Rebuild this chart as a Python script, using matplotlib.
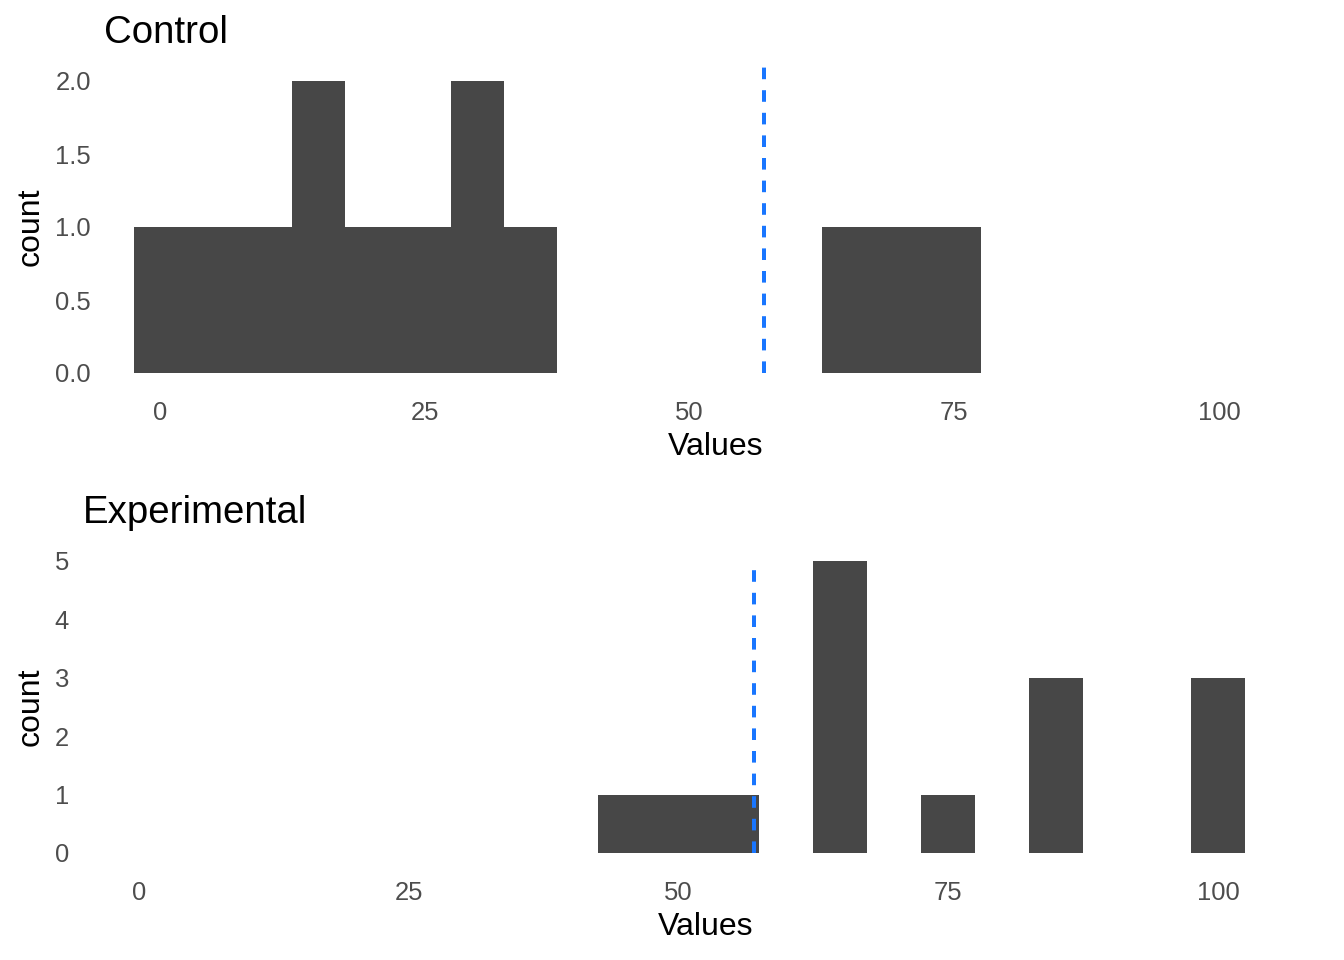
import matplotlib
matplotlib.use("Agg")
import matplotlib.pyplot as plt

# ---- data ----
control_bins = [0, 5, 10, 15, 20, 25, 30, 35, 65, 70, 75]
control_counts = [1, 1, 1, 2, 1, 1, 2, 1, 1, 1, 1]
exp_bins = [45, 50, 55, 65, 75, 85, 100]
exp_counts = [1, 1, 1, 5, 1, 3, 3]
mean_line = 57
control_line_top = 2.1
exp_line_top = 5.0
x_ticks = [0, 25, 50, 75, 100]
control_yticks = [0.0, 0.5, 1.0, 1.5, 2.0]
control_yticklabels = ["0.0", "0.5", "1.0", "1.5", "2.0"]
exp_yticks = [0, 1, 2, 3, 4, 5]
titles = ["Control", "Experimental"]

plt.rcParams['font.family'] = ['Liberation Sans', 'DejaVu Sans']

W, H = 1344, 960
DPI = 192
fig = plt.figure(figsize=(W / DPI, H / DPI), dpi=DPI)

BAR = "#474747"
LINE = "#1976FF"

def px_axes(left, right, top, bottom):
    return fig.add_axes([left / W, (H - bottom) / H, (right - left) / W, (bottom - top) / H])

panels = [
    dict(box=(104.4, 1327.5, 66.4, 387.6), bins=control_bins, counts=control_counts,
         ylim=(-0.1, 2.1), yticks=control_yticks, ylabels=control_yticklabels,
         title=titles[0], line_top=control_line_top),
    dict(box=(82.4, 1328.6, 546.4, 867.6), bins=exp_bins, counts=exp_counts,
         ylim=(-0.25, 5.25), yticks=exp_yticks, ylabels=[str(v) for v in exp_yticks],
         title=titles[1], line_top=exp_line_top),
]

for p in panels:
    ax = px_axes(*p["box"])
    ax.bar(p["bins"], p["counts"], width=5, color=BAR, edgecolor="none", linewidth=0)
    ax.plot([mean_line, mean_line], [0, p["line_top"]], color=LINE, linewidth=1.5,
            dashes=(2.9, 2.75), solid_capstyle='butt', dash_capstyle='butt')
    ax.set_xlim(-5.25, 110.25)
    ax.set_ylim(*p["ylim"])
    ax.set_xticks(x_ticks)
    ax.set_xticklabels([str(v) for v in x_ticks])
    ax.set_yticks(p["yticks"])
    ax.set_yticklabels(p["ylabels"])
    for s in ax.spines.values():
        s.set_visible(False)
    ax.tick_params(axis='both', length=0, pad=5.0, labelsize=9.6, labelcolor="#4D4D4D")
    ax.set_xlabel("Values", fontsize=12, color="black", labelpad=2.75)
    ax.set_ylabel("count", fontsize=12, color="black", labelpad=3.5)
    ax.set_title(p["title"], loc='left', fontsize=14.4, color="black", pad=8.8)
    ax.grid(False)

fig.savefig("out.png", dpi=DPI, facecolor="white")
